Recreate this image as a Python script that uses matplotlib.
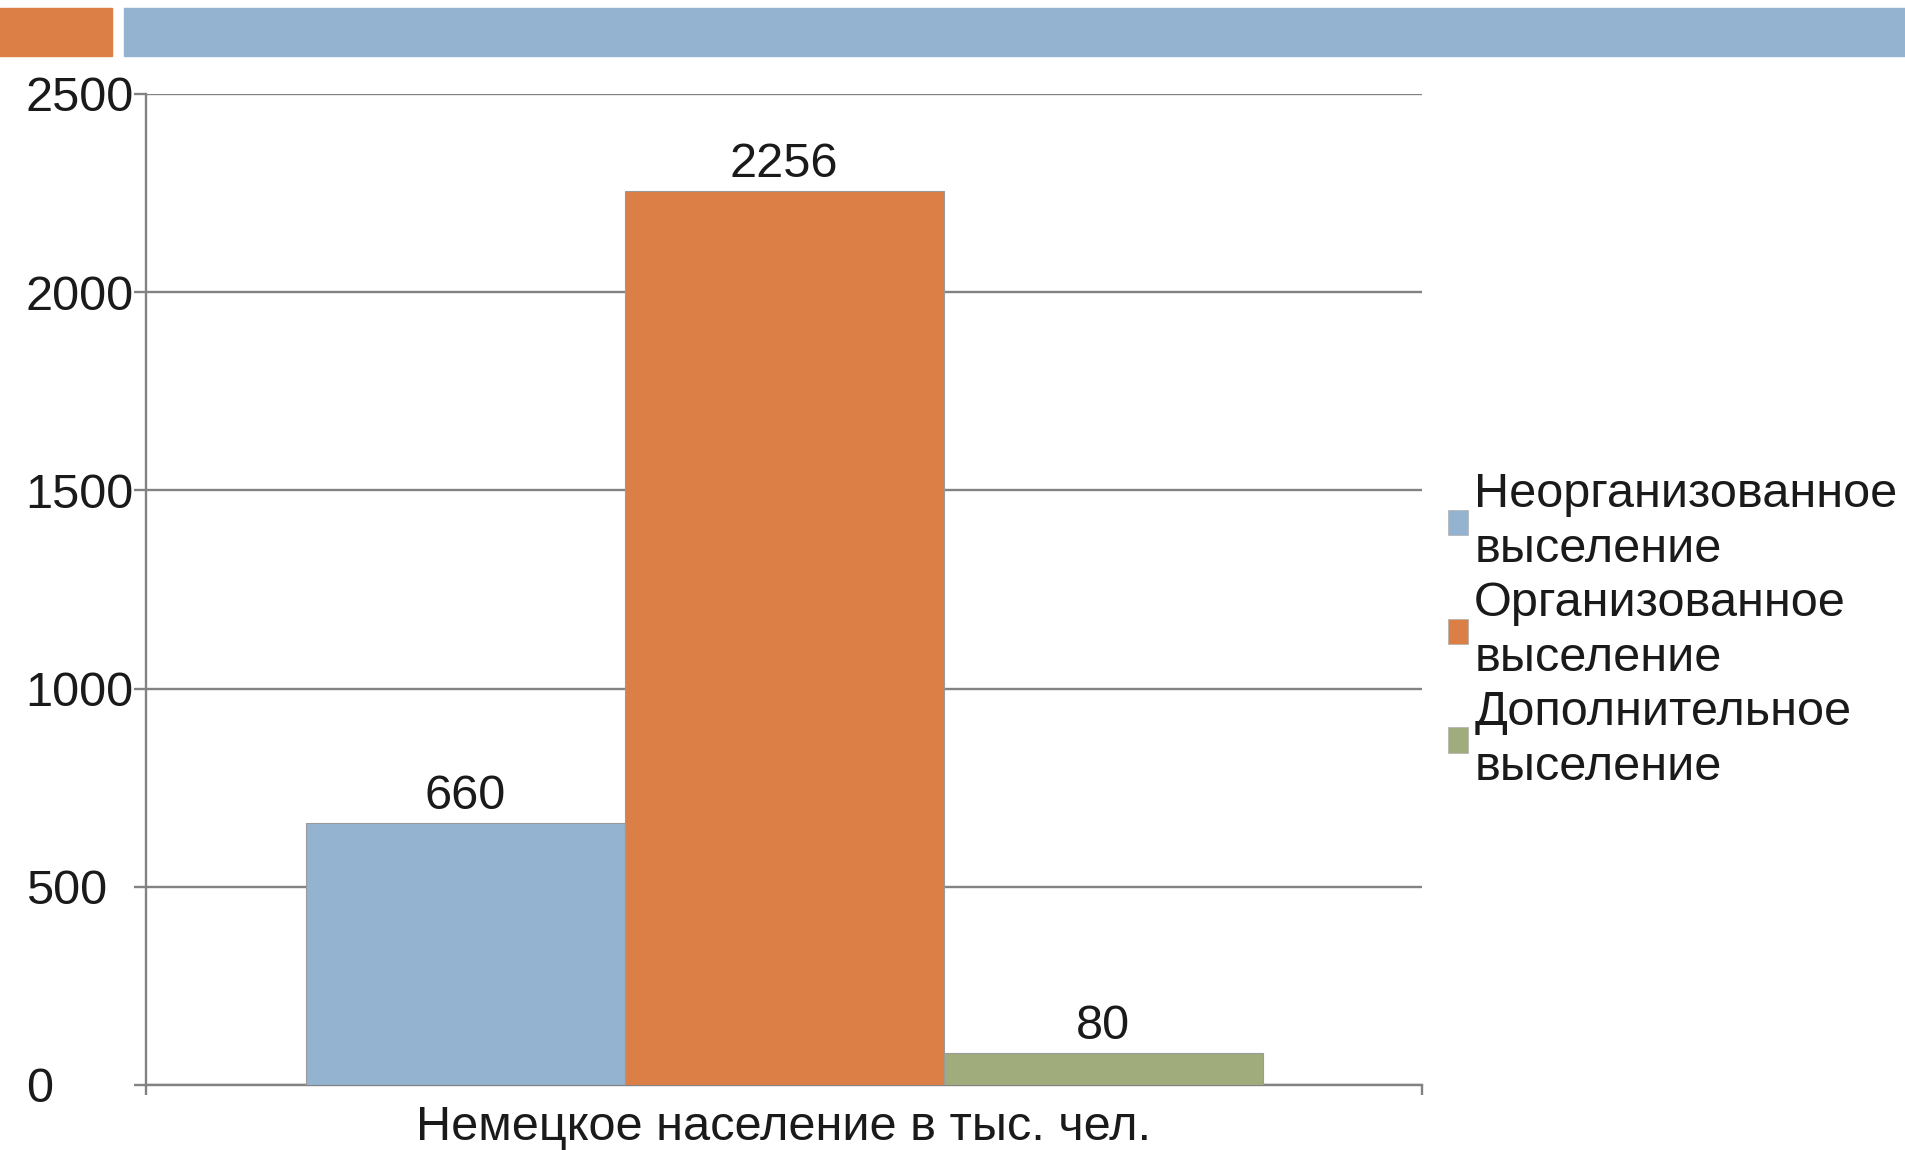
import matplotlib.pyplot as plt
from matplotlib.patches import Rectangle, Patch

plt.rcParams['font.family'] = ['Liberation Sans', 'DejaVu Sans']

# данные
category = "Немецкое население в тыс. чел."
series = ["Неорганизованное\nвыселение", "Организованное\nвыселение", "Дополнительное\nвыселение"]
values = [660, 2256, 80]
colors = ["#93B3D1", "#DB7F46", "#A0AC7C"]
yticks = [0, 500, 1000, 1500, 2000, 2500]

FS = 35

fig = plt.figure(figsize=(19.05, 11.5), dpi=100)

# декоративные полосы сверху
fig.patches.append(Rectangle((0, 1 - 56 / 1150), 112 / 1905, 48 / 1150,
                             transform=fig.transFigure, color="#DC7F46", zorder=0))
fig.patches.append(Rectangle((124 / 1905, 1 - 56 / 1150), 1 - 124 / 1905, 48 / 1150,
                             transform=fig.transFigure, color="#93B3D1", zorder=0))

ax = fig.add_axes([146 / 1905, 1 - 1085 / 1150, (1422 - 146) / 1905, (1085 - 94) / 1150])

width = 0.25
n = len(values)
for i, (v, c) in enumerate(zip(values, colors)):
    x = (i - (n - 1) / 2) * width
    ax.bar(x, v, width=width, color=c, edgecolor="#9a9a9a", linewidth=0.8, zorder=3)
    ax.annotate(str(v), (x, v), xytext=(0, 3), textcoords="offset points",
                ha="center", va="bottom", fontsize=FS, color="#1a1a1a")

ax.set_xlim(-0.5, 0.5)
ax.set_ylim(0, 2500)
ax.set_yticks(yticks)
ax.set_xticks([-0.5, 0.5])
ax.set_xticklabels([])
ax.yaxis.grid(True, color="#828282", linewidth=1.7, zorder=0)
ax.set_axisbelow(True)

for s in ["top", "right"]:
    ax.spines[s].set_visible(False)
for s in ["left", "bottom"]:
    ax.spines[s].set_color("#828282")
    ax.spines[s].set_linewidth(1.7)

ax.tick_params(axis="y", direction="out", length=8.6, width=1.7, color="#828282",
               labelsize=FS, labelcolor="#1a1a1a", pad=78)
for lbl in ax.get_yticklabels():
    lbl.set_horizontalalignment("left")
ax.tick_params(axis="x", direction="out", length=7, width=1.7, color="#828282")

fig.text(784 / 1905, 1 - 1127 / 1150, category, ha="center", va="center",
         fontsize=FS, color="#1a1a1a")

handles = [Patch(facecolor=c, edgecolor="#b0b0b0", linewidth=0.5) for c in colors]
leg = fig.legend(handles, series, loc="center left", bbox_to_anchor=(1448 / 1905, 1 - 631 / 1150),
                 frameon=False, fontsize=FS, handlelength=0.42, handleheight=0.42,
                 handletextpad=0.12, labelspacing=0.17, borderpad=0, borderaxespad=0)
for t in leg.get_texts():
    t.set_linespacing(1.3)
    t.set_color("#1a1a1a")

fig.savefig("out.png", dpi=100)
